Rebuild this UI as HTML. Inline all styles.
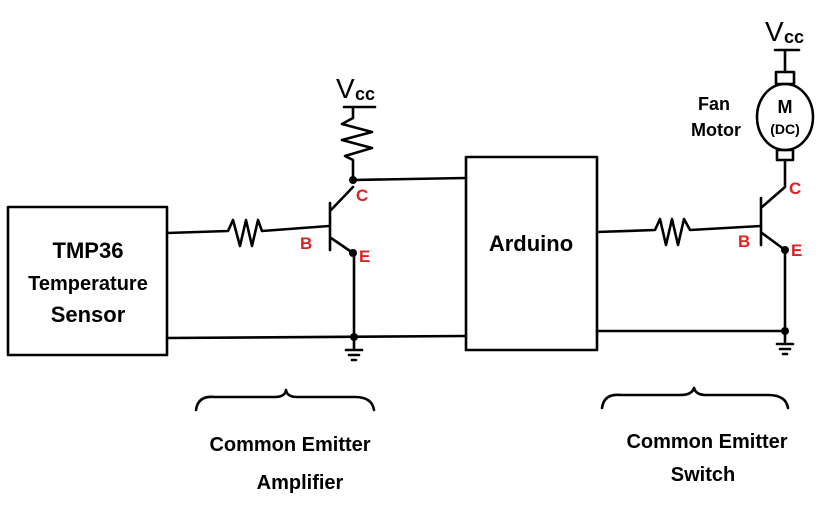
<!DOCTYPE html><html><head><style>body{margin:0;background:#fff}svg{display:block}</style></head><body>
<svg width="819" height="512" viewBox="0 0 819 512" xmlns="http://www.w3.org/2000/svg" font-family="Liberation Sans, sans-serif">
<g fill="none" stroke="#000" stroke-width="2.6" stroke-linecap="round" stroke-linejoin="round">
<rect x="8" y="207" width="159" height="148"/>
<rect x="466" y="157" width="131" height="193"/>
<path d="M167 233 L228 231 L233 220 L240 246 L246 220 L252 246 L258 220 L262 231 L329 226"/>
<path d="M330 203 L330 250 M331 210 L353 187 M331 238 L353 253 M353 180 L466 178 M353 107 L353 118 L342 124 L372 132 L342 140 L372 148 L345 156 L353 160 L353 180 M344 107 L375 107 M354 253 L354 337 M167 338 L466 336 M354 337 L354 348 M346 350 L362 350 M349 355 L359 355 M352 360 L356 360"/>
<path d="M597 232 L655 230 L660 219 L666 245 L672 219 L678 245 L684 219 L690 230 L761 226"/>
<path d="M761 198 L761 245 M762 207 L785 187 M762 233 L785 250 M785 187 L785 160 M785 250 L785 331 M597 331 L785 331 M785 331 L785 342 M777 344 L793 344 M780 349 L790 349 M783 354 L787 354 M775 50 L799 50 M785 50 L785 72"/>
<rect x="776" y="72" width="18" height="12"/>
<rect x="777" y="150" width="16" height="10"/>
<ellipse cx="785" cy="117" rx="28" ry="33"/>
<path d="M196 410 Q198 395 215 397 L275 397 Q285 397 286 390 Q287 397 297 397 L355 397 Q372 397 374 410"/>
<path d="M602 408 Q604 393 621 395 L680 395 Q692 395 694 388 Q696 395 706 395 L768 395 Q786 395 788 408"/>
</g>
<g fill="#000"><circle cx="353" cy="180" r="4"/><circle cx="353" cy="253" r="4"/><circle cx="354" cy="337" r="4"/><circle cx="785" cy="250" r="4"/><circle cx="785" cy="331" r="4"/></g>
<g font-size="22" text-anchor="middle" fill="#000" font-weight="bold">
<text x="88" y="258">TMP36</text><text x="88" y="290" font-size="20">Temperature</text><text x="88" y="322">Sensor</text>
<text x="531" y="251">Arduino</text>
<text x="290" y="451" font-size="20">Common Emitter</text><text x="300" y="489" font-size="20">Amplifier</text>
<text x="707" y="448" font-size="20">Common Emitter</text><text x="703" y="481" font-size="20">Switch</text>
<text x="714" y="110" font-size="18">Fan</text><text x="716" y="136" font-size="18">Motor</text>
<text x="785" y="113" font-size="18">M</text><text x="785" y="134" font-size="14">(DC)</text>
</g>
<g fill="#000"><text x="336" y="98" font-size="28">V</text><text x="355" y="100" font-size="18" font-weight="bold">cc</text>
<text x="765" y="41" font-size="28">V</text><text x="784" y="43" font-size="18" font-weight="bold">cc</text></g>
<g fill="#e02020" font-size="17" font-weight="bold">
<text x="356" y="201">C</text><text x="300" y="249">B</text><text x="359" y="262">E</text>
<text x="789" y="194">C</text><text x="738" y="247">B</text><text x="791" y="256">E</text></g>
</svg></body></html>
